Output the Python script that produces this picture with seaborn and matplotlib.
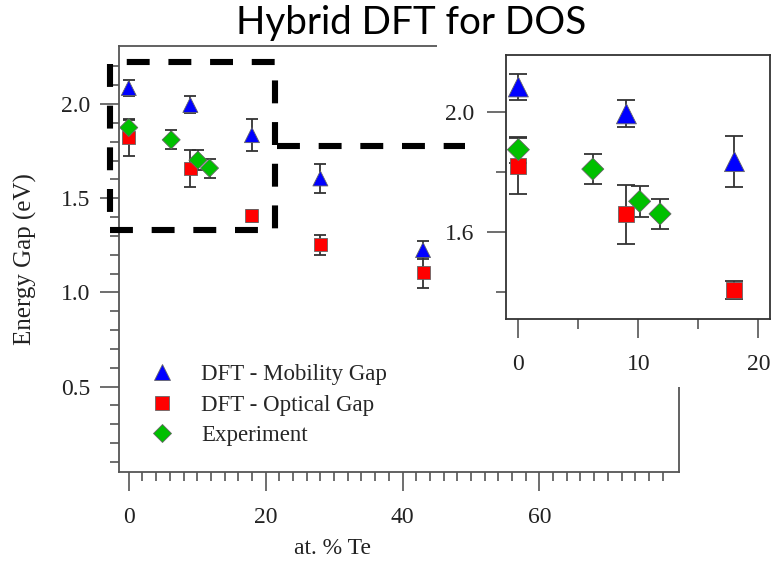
import numpy as np
import pandas as pd
import matplotlib
matplotlib.use("Agg")
import matplotlib.pyplot as plt
import seaborn as sns
from matplotlib.lines import Line2D
from matplotlib.patches import Rectangle
from matplotlib.ticker import FixedLocator, MultipleLocator

# ---------------- data ----------------
series_names = ["DFT - Mobility Gap", "DFT - Optical Gap", "Experiment"]
mob_x = [0, 9, 18, 28, 43]
mob_y = [2.085, 1.995, 1.835, 1.605, 1.225]
mob_err = [0.045, 0.045, 0.085, 0.078, 0.05]
opt_x = [0, 9, 18, 28, 43]
opt_y = [1.82, 1.658, 1.406, 1.252, 1.105]
opt_err = [0.095, 0.098, 0.03, 0.055, 0.084]
exp_x = [0, 6.2, 10.1, 11.8]
exp_y = [1.875, 1.81, 1.702, 1.66]
exp_err = [0.044, 0.05, 0.052, 0.05]

main_xticks = [0, 20, 40, 60]
main_yticks = [0.5, 1.0, 1.5, 2.0]
inset_xticks = [0, 10, 20]
inset_yticks = [1.6, 2.0]

title = "Hybrid DFT for DOS"
xlabel = "at. % Te"
ylabel = "Energy Gap (eV)"

df = pd.concat([
    pd.DataFrame({"x": mob_x, "y": mob_y, "err": mob_err, "series": series_names[0]}),
    pd.DataFrame({"x": opt_x, "y": opt_y, "err": opt_err, "series": series_names[1]}),
    pd.DataFrame({"x": exp_x, "y": exp_y, "err": exp_err, "series": series_names[2]}),
], ignore_index=True)

colors = {series_names[0]: "#0000FF", series_names[1]: "#FF0000", series_names[2]: "#00C000"}
markers = {series_names[0]: "^", series_names[1]: "s", series_names[2]: "D"}
order = [series_names[1], series_names[2], series_names[0]]

# ---------------- style ----------------
sns.set_style("ticks")
plt.rcParams["font.family"] = ["Liberation Serif", "DejaVu Serif"]
plt.rcParams["lines.scale_dashes"] = False
FS = 17
spine_c = "#555555"

W, H = 771, 566
fig = plt.figure(figsize=(W / 100, H / 100), dpi=100)

def fbox(l, t, r, b):
    return [l / W, 1 - b / H, (r - l) / W, (b - t) / H]

ax = fig.add_axes(fbox(118.5, 46, 679, 472))
ax.set_zorder(0)

def draw(axis, sizes, capsize):
    for name in order:
        d = df[df.series == name]
        axis.errorbar(d.x, d.y, yerr=d.err, fmt="none", ecolor="#333333",
                      elinewidth=1.3, capsize=capsize, capthick=1.3, zorder=2)
    sns.scatterplot(data=df, x="x", y="y", hue="series", style="series",
                    palette=colors, markers=markers, size="series", sizes=sizes,
                    hue_order=order, style_order=order, size_order=order,
                    edgecolor="#666666", linewidth=0.6, legend=False, ax=axis, zorder=3)

draw(ax, {series_names[0]: 117, series_names[1]: 88, series_names[2]: 84}, 4.3)

ax.set_xlim(-1.5, 80.4)
ax.set_ylim(0.047, 2.308)
ax.xaxis.set_major_locator(FixedLocator(main_xticks))
ax.xaxis.set_minor_locator(FixedLocator([v for v in range(2, 79, 2) if v not in main_xticks]))
ax.yaxis.set_major_locator(FixedLocator(main_yticks))
ax.yaxis.set_minor_locator(FixedLocator([0.1, 0.2, 0.3, 0.4, 0.6, 0.7, 0.8, 0.9, 1.1, 1.2,
                                          1.3, 1.4, 1.6, 1.7, 1.8, 1.9, 2.1, 2.2]))
ax.set_xticklabels([str(v) for v in main_xticks])
ax.set_yticklabels([f"{v:.1f}" for v in main_yticks])
ax.tick_params(axis="both", which="major", length=13.5, width=1.2, color=spine_c,
               labelsize=FS, labelcolor="#222222")
ax.tick_params(axis="both", which="minor", length=6.5, width=1.2, color=spine_c)
ax.tick_params(axis="x", which="major", pad=12)
ax.tick_params(axis="y", which="major", pad=7)
for s in ax.spines.values():
    s.set_color(spine_c)
    s.set_linewidth(1.3)
ax.set_xlabel(xlabel, fontsize=FS, color="#222222")
ax.set_ylabel(ylabel, fontsize=FS + 1, color="#222222")
ax.xaxis.set_label_coords((333 - 118.5) / (679 - 118.5), (472 - 548) / 426)
ax.xaxis.label.set_va("center")
ax.yaxis.set_label_coords((25 - 118.5) / (679 - 118.5), 0.5)
ax.yaxis.label.set_va("center")

# dashed zoom box
ax.add_patch(Rectangle((-2.7, 1.331), 24.05, 0.894, fill=False, edgecolor="black",
                       linewidth=4.4, linestyle=(0, (16.5, 13.5)), clip_on=False, zorder=5))

# legend
handles = [Line2D([], [], linestyle="none", marker=markers[n], color=colors[n],
                  markeredgecolor="#666666", markeredgewidth=0.6,
                  markersize={"^": 11, "s": 9.5, "D": 9.3}[markers[n]]) for n in series_names]
ax.legend(handles, series_names, loc="lower left", bbox_to_anchor=(0.036, 0.039),
          frameon=False, fontsize=FS - 0.5, handletextpad=1.12, labelspacing=0.415,
          handlelength=1.2, borderaxespad=0)

# white backdrop for inset
fig.patches.append(Rectangle((437 / W, 1 - 387 / H), 1 - 437 / W, (387 - 43) / H,
                             transform=fig.transFigure, facecolor="white",
                             edgecolor="none", zorder=1))

# connector dashed line
fig.add_artist(Line2D([277 / W, 465 / W], [1 - 146 / H, 1 - 146 / H], transform=fig.transFigure,
                      color="black", linewidth=4.4, linestyle=(0, (16.5, 13.5)), zorder=1.5))

# inset
axin = fig.add_axes(fbox(506, 55, 770, 319))
axin.set_zorder(2)
draw(axin, {series_names[0]: 207, series_names[1]: 133, series_names[2]: 126}, 6.8)
axin.set_xlim(-1.03, 20.96)
axin.set_ylim(1.308, 2.192)
axin.xaxis.set_major_locator(FixedLocator(inset_xticks))
axin.xaxis.set_minor_locator(FixedLocator([5, 15]))
axin.yaxis.set_major_locator(FixedLocator(inset_yticks))
axin.yaxis.set_minor_locator(FixedLocator([1.4, 1.8]))
axin.set_xticklabels([str(v) for v in inset_xticks])
axin.set_yticklabels([f"{v:.1f}" for v in inset_yticks])
axin.tick_params(axis="both", which="major", length=13.5, width=1.2, color=spine_c,
                 labelsize=FS, labelcolor="#222222")
axin.tick_params(axis="both", which="minor", length=7.5, width=1.2, color=spine_c)
axin.tick_params(axis="x", which="major", pad=12)
axin.tick_params(axis="y", which="major", pad=9)
axin.set_xlabel("")
axin.set_ylabel("")
for s in axin.spines.values():
    s.set_color("#333333")
    s.set_linewidth(1.3)

fig.text(411 / W, 1 - 23 / H, title, ha="center", va="center", fontsize=27.8,
         family=["Lato", "DejaVu Sans"], color="black", zorder=10)

fig.savefig("out.png", dpi=100)
